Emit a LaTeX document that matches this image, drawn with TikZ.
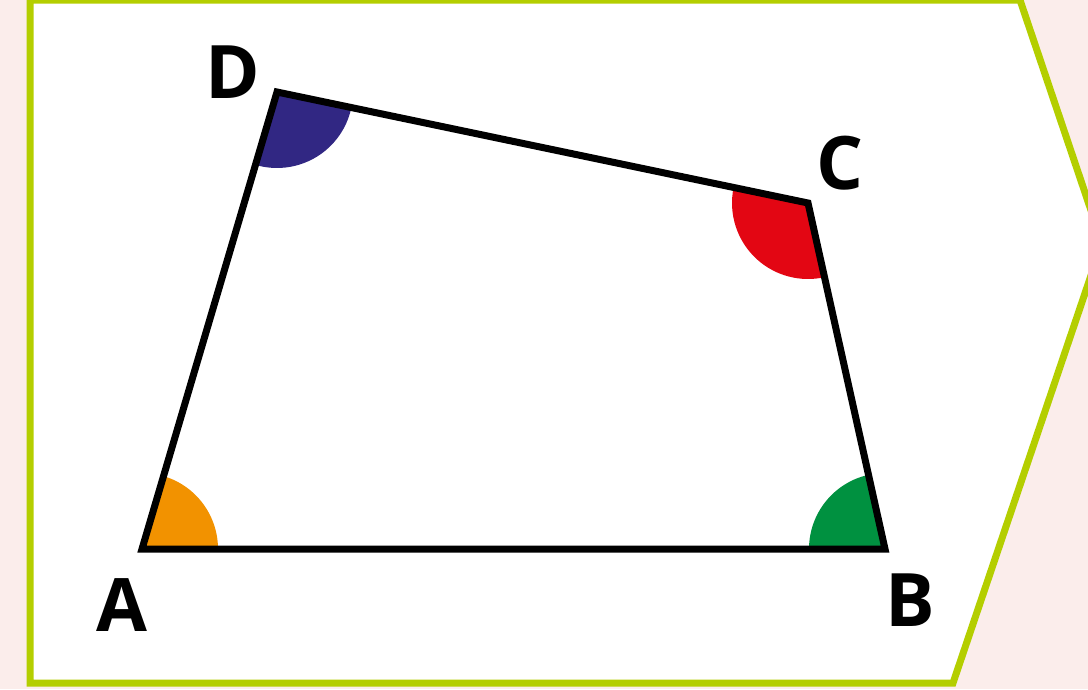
\documentclass[tikz,border=0pt]{standalone}
\usepackage{fontspec}
\setmainfont{Open Sans}
\definecolor{quadpink}{RGB}{251,237,235}
\definecolor{quadlime}{RGB}{180,206,0}
\definecolor{quadorange}{RGB}{242,146,0}
\definecolor{quadgreen}{RGB}{0,145,64}
\definecolor{quadred}{RGB}{227,6,19}
\definecolor{quadblue}{RGB}{49,39,131}
\usetikzlibrary{angles,calc}

\begin{document}
\begin{tikzpicture}[
    vlabel/.style={font=\fontsize{21}{25}\selectfont\bfseries,inner sep=0pt},
    wedge/.style={angle radius=0.76cm}]

        % Fundo e moldura
        \useasboundingbox (0,0) rectangle (10.88,6.89);
        \fill[quadpink] (0,0) rectangle (10.88,6.89);
        \clip (0,0) rectangle (10.88,6.89);
        \filldraw[fill=white,draw=quadlime,line width=0.07cm,line join=miter]
            (0.30,0.06) -- (9.53,0.06) -- (11.02,4.46) -- (10.20,6.89) -- (0.30,6.89) -- cycle;

        % Vertices do quadrilatero
        \coordinate (A) at (1.42,1.40);
        \coordinate (B) at (8.85,1.40);
        \coordinate (C) at (8.08,4.86);
        \coordinate (D) at (2.77,5.97);

        % Angulos internos
        \pic[wedge,fill=quadorange] {angle = B--A--D};
        \pic[wedge,fill=quadgreen]  {angle = C--B--A};
        \pic[wedge,fill=quadred]    {angle = D--C--B};
        \pic[wedge,fill=quadblue]   {angle = A--D--C};

        % Lados
        \draw[line width=0.07cm,line join=miter] (A) -- (B) -- (C) -- (D) -- cycle;

        % Rotulos
        \node[vlabel] (lA) at (1.22,0.84) {A};
        \node[vlabel] (lB) at (9.10,0.89) {B};
        \node[vlabel] (lC) at (8.40,5.26) {C};
        \node[vlabel] (lD) at (2.33,6.17) {D};

    \end{tikzpicture}
\end{document}
